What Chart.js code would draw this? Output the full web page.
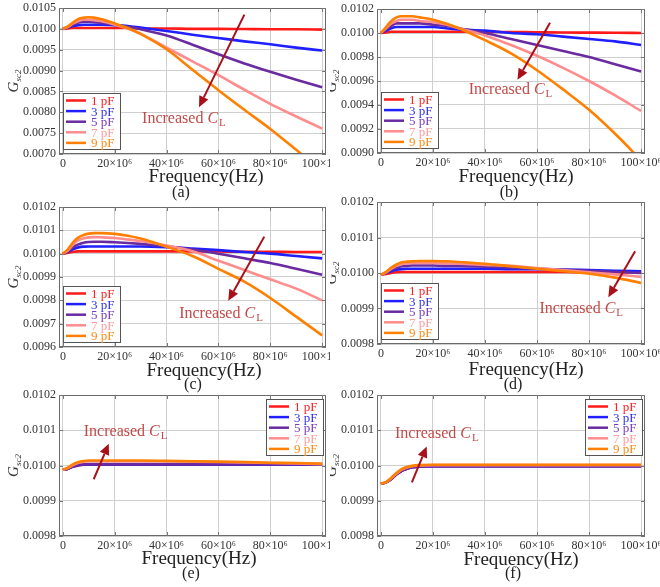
<!DOCTYPE html>
<html><head><meta charset="utf-8">
<script src="https://cdn.jsdelivr.net/npm/chart.js@4.4.1/dist/chart.umd.min.js"></script>
<style>
html,body{margin:0;padding:0;background:#fff;}
body{width:660px;height:587px;position:relative;overflow:hidden;font-family:"Liberation Serif","Times New Roman",serif;}
canvas{position:absolute;}
.t{position:absolute;font-family:"Liberation Serif","Times New Roman",serif;color:#222;white-space:nowrap;transform:translate(-50%,-50%);}
.ft{font-size:19px;}
.pl{font-size:16px;}
</style></head><body>
<canvas id="cA" width="330" height="172" style="left:0;top:0"></canvas>
<canvas id="cB" width="330" height="172" style="left:330px;top:0"></canvas>
<canvas id="cC" width="330" height="172" style="left:0;top:190px"></canvas>
<canvas id="cD" width="330" height="172" style="left:330px;top:190px"></canvas>
<canvas id="cE" width="330" height="172" style="left:0;top:380px"></canvas>
<canvas id="cF" width="330" height="172" style="left:330px;top:380px"></canvas>
<div class="t ft" style="left:206px;top:176px">Frequency(Hz)</div>
<div class="t pl" style="left:181px;top:192px">(a)</div>
<div class="t ft" style="left:516px;top:176px">Frequency(Hz)</div>
<div class="t pl" style="left:509px;top:192px">(b)</div>
<div class="t ft" style="left:204px;top:370px">Frequency(Hz)</div>
<div class="t pl" style="left:193px;top:384px">(c)</div>
<div class="t ft" style="left:526px;top:369px">Frequency(Hz)</div>
<div class="t pl" style="left:513px;top:384px">(d)</div>
<div class="t ft" style="left:199px;top:558px">Frequency(Hz)</div>
<div class="t pl" style="left:191px;top:573px">(e)</div>
<div class="t ft" style="left:521px;top:559px">Frequency(Hz)</div>
<div class="t pl" style="left:513px;top:573px">(f)</div>
<script>
// ---------- DATA ----------
const freqMHz = [0,2,4,6,8,10,12,15,20,25,30,40,50,60,70,80,90,100];
const seriesLabels = ['1 pF','3 pF','5 pF','7 pF','9 pF'];
const xTickValues = [0,20e6,40e6,60e6,80e6,100e6];

const yTicksA = [0.0070,0.0075,0.0080,0.0085,0.0090,0.0095,0.0100,0.0105];
const yTicksB = [0.0090,0.0092,0.0094,0.0096,0.0098,0.0100,0.0102];
const yTicksC = [0.0096,0.0097,0.0098,0.0099,0.0100,0.0101,0.0102];
const yTicksD = [0.0098,0.0099,0.0100,0.0101,0.0102];
const yTicksE = [0.0098,0.0099,0.0100,0.0101,0.0102];
const yTicksF = [0.0098,0.0099,0.0100,0.0101,0.0102];

// panel (a)
const a1pF = [0.01000,0.01001,0.01002,0.01002,0.01002,0.01002,0.01002,0.01002,0.01002,0.01002,0.01001,0.01001,0.01000,0.01000,0.009995,0.00999,0.00999,0.009982];
const a3pF = [0.01000,0.01003,0.01007,0.01009,0.01010,0.01010,0.01010,0.01010,0.01009,0.01007,0.01003,0.00995,0.00986,0.00978,0.00970,0.00963,0.00955,0.00948];
const a5pF = [0.01000,0.01004,0.01010,0.01015,0.01017,0.01017,0.01016,0.01014,0.01010,0.01005,0.00999,0.00984,0.00962,0.00939,0.00917,0.00897,0.00878,0.00860];
const a7pF = [0.01000,0.01005,0.01013,0.01019,0.01022,0.01022,0.01021,0.01018,0.01010,0.01001,0.00988,0.00955,0.00922,0.00889,0.00854,0.00820,0.00790,0.00761];
const a9pF = [0.01000,0.01006,0.01016,0.01024,0.01027,0.01028,0.01027,0.01023,0.01013,0.01002,0.00988,0.00951,0.00902,0.00853,0.00806,0.00760,0.00710,0.00660];
// panel (b)
const b1pF = [0.01000,0.010005,0.01001,0.01001,0.01001,0.01001,0.01001,0.01001,0.01001,0.01001,0.01001,0.01001,0.010008,0.010006,0.010004,0.010003,0.010002,0.010000];
const b3pF = [0.01000,0.01002,0.01004,0.01005,0.01005,0.01005,0.01005,0.01005,0.01005,0.01004,0.01003,0.01002,0.01000,0.00999,0.00997,0.00995,0.00993,0.00990];
const b5pF = [0.01000,0.01003,0.01006,0.01008,0.01008,0.01008,0.01008,0.01008,0.01007,0.01006,0.01004,0.01000,0.00995,0.00990,0.00985,0.00980,0.00974,0.00968];
const b7pF = [0.01000,0.01004,0.01008,0.01010,0.01011,0.01011,0.01011,0.01010,0.01009,0.01007,0.01004,0.00998,0.00990,0.00981,0.00971,0.00960,0.00948,0.00935];
const b9pF = [0.01000,0.01005,0.01010,0.01013,0.01014,0.01014,0.01014,0.01013,0.01011,0.01008,0.01004,0.00994,0.00983,0.00969,0.00953,0.00936,0.00916,0.00894];
// panel (c)
const c1pF = [0.01000,0.010004,0.010008,0.01001,0.01001,0.01001,0.01001,0.01001,0.01001,0.01001,0.01001,0.01001,0.01001,0.010009,0.010008,0.010008,0.010007,0.010007];
const c3pF = [0.01000,0.010008,0.01002,0.010027,0.01003,0.010031,0.010031,0.010031,0.010031,0.010031,0.010031,0.010028,0.010022,0.010015,0.010007,0.01000,0.00999,0.00998];
const c5pF = [0.01000,0.01001,0.010028,0.01004,0.010047,0.01005,0.010051,0.010051,0.010049,0.010046,0.010042,0.010032,0.010018,0.01000,0.00998,0.00996,0.009935,0.00991];
const c7pF = [0.01000,0.010015,0.01004,0.010058,0.010066,0.01007,0.010071,0.01007,0.010067,0.010061,0.010054,0.010035,0.01001,0.00997,0.00993,0.00989,0.00985,0.00980];
const c9pF = [0.01000,0.01002,0.01005,0.01007,0.01008,0.010086,0.010088,0.010088,0.010085,0.010077,0.010065,0.01003,0.00999,0.009935,0.00988,0.00981,0.00973,0.00965];
// panel (d)
const d1pF = [0.009995,0.009997,0.010000,0.010002,0.010003,0.010003,0.010003,0.010003,0.010003,0.010003,0.010003,0.010003,0.010003,0.010003,0.010003,0.010002,0.010002,0.010002];
const d3pF = [0.009995,0.010000,0.010005,0.010009,0.010011,0.010012,0.010012,0.010012,0.010012,0.010012,0.010012,0.010012,0.010011,0.010011,0.010010,0.010008,0.010006,0.010005];
const d5pF = [0.009995,0.010001,0.010009,0.010015,0.010019,0.010020,0.010021,0.010021,0.010021,0.010020,0.010020,0.010018,0.010015,0.010012,0.010009,0.010006,0.010003,0.010000];
const d7pF = [0.009995,0.010002,0.010012,0.010020,0.010025,0.010027,0.010028,0.010028,0.010028,0.010027,0.010026,0.010023,0.010020,0.010014,0.010008,0.010002,0.009996,0.009989];
const d9pF = [0.009995,0.010003,0.010015,0.010024,0.010030,0.010032,0.010033,0.010034,0.010034,0.010033,0.010031,0.010026,0.010019,0.010012,0.010005,0.009998,0.009987,0.009972];
// panel (e)
const e1pF = [0.009988,0.009991,0.009997,0.010000,0.010002,0.010002,0.010002,0.010002,0.010002,0.010002,0.010002,0.010002,0.010002,0.010002,0.010002,0.010002,0.010002,0.010002];
const e3pF = [0.009988,0.009991,0.009997,0.010001,0.010003,0.010003,0.010003,0.010003,0.010003,0.010003,0.010003,0.010003,0.010003,0.010003,0.010003,0.010003,0.010003,0.010003];
const e5pF = [0.009988,0.009991,0.009998,0.010002,0.010003,0.010004,0.010004,0.010004,0.010004,0.010004,0.010004,0.010004,0.010004,0.010004,0.010004,0.010004,0.010004,0.010004];
const e7pF = [0.009988,0.009993,0.010002,0.010008,0.010011,0.010012,0.010012,0.010012,0.010012,0.010012,0.010012,0.010012,0.010011,0.010010,0.010009,0.010007,0.010006,0.010004];
const e9pF = [0.009988,0.009994,0.010004,0.010010,0.010013,0.010014,0.010014,0.010014,0.010014,0.010014,0.010014,0.010013,0.010012,0.010011,0.010010,0.010008,0.010007,0.010005];
// panel (f)
const f1pF = [0.009948,0.009952,0.009962,0.009975,0.009985,0.009991,0.009995,0.009997,0.009998,0.009998,0.009998,0.009998,0.009998,0.009998,0.009998,0.009998,0.009998,0.009998];
const f3pF = [0.009948,0.009952,0.009962,0.009975,0.009985,0.009991,0.009995,0.009997,0.009998,0.009998,0.009998,0.009998,0.009998,0.009998,0.009998,0.009998,0.009998,0.009998];
const f5pF = [0.009948,0.009952,0.009962,0.009975,0.009985,0.009991,0.009995,0.009997,0.009998,0.009998,0.009998,0.009998,0.009998,0.009998,0.009998,0.009998,0.009998,0.009998];
const f7pF = [0.009948,0.009953,0.009964,0.009977,0.009988,0.009994,0.009998,0.010000,0.010001,0.010001,0.010001,0.010001,0.010001,0.010001,0.010001,0.010001,0.010001,0.010001];
const f9pF = [0.009948,0.009953,0.009965,0.009979,0.009990,0.009996,0.009999,0.010001,0.010002,0.010002,0.010002,0.010002,0.010002,0.010002,0.010002,0.010002,0.010002,0.010002];

// ---------- STYLE ----------
const lineColors = ['#ff1a1a','#2020ff','#6a2aa0','#ff8c8c','#ff8000'];
const textColors = ['#ff2020','#3030ee','#7a3cc0','#ff9c9c','#ff8a10'];
const FONT = '"Liberation Serif","Times New Roman",serif';

const panels = [
  {id:'cA', series:[a1pF,a3pF,a5pF,a7pF,a9pF], yt:yTicksA, area:{l:59,r:326,t:8,b:154}, legend:'bl',
   txt:[46.7e6,0.00787], arr:[[70e6,0.01034],[52.5e6,0.00812]]},
  {id:'cB', series:[b1pF,b3pF,b5pF,b7pF,b9pF], yt:yTicksB, area:{l:47,r:315,t:9,b:153}, legend:'bl',
   txt:[49.8e6,0.009536], arr:[[65e6,0.010086],[52.5e6,0.00961]]},
  {id:'cC', series:[c1pF,c3pF,c5pF,c7pF,c9pF], yt:yTicksC, area:{l:59,r:326,t:17,b:157}, legend:'bl',
   txt:[61e6,0.009747], arr:[[77.7e6,0.010073],[63.8e6,0.009798]]},
  {id:'cD', series:[d1pF,d3pF,d5pF,d7pF,d9pF], yt:yTicksD, area:{l:47,r:315,t:12,b:154}, legend:'bl',
   txt:[77e6,0.009901], arr:[[97.7e6,0.010061],[87.4e6,0.009932]]},
  {id:'cE', series:[e1pF,e3pF,e5pF,e7pF,e9pF], yt:yTicksE, area:{l:59,r:326,t:15,b:156}, legend:'tr',
   txt:[24.2e6,0.010099], arr:[[11.9e6,0.009961],[17.7e6,0.010062]]},
  {id:'cF', series:[f1pF,f3pF,f5pF,f7pF,f9pF], yt:yTicksF, area:{l:47,r:315,t:15,b:156}, legend:'tr',
   txt:[21.5e6,0.010093], arr:[[11.9e6,0.009952],[17.6e6,0.010054]]}
];

const decor = {
  id:'decor',
  afterDraw(chart){
    const o = chart.options.plugins.decor;
    const {ctx, chartArea:ca, scales:{x,y}} = chart;
    ctx.save();
    // frame
    ctx.strokeStyle='#6a6a6a'; ctx.lineWidth=1;
    ctx.strokeRect(Math.round(ca.left)+0.5, Math.round(ca.top)+0.5, Math.round(ca.width)-1, Math.round(ca.height)-1);
    // inward ticks
    ctx.strokeStyle='#777';
    ctx.beginPath();
    xTickValues.forEach(v=>{const px=Math.round(x.getPixelForValue(v))+0.5;
      ctx.moveTo(px,ca.bottom);ctx.lineTo(px,ca.bottom-4);ctx.moveTo(px,ca.top);ctx.lineTo(px,ca.top+4);});
    o.yt.forEach(v=>{const py=Math.round(y.getPixelForValue(v))+0.5;
      ctx.moveTo(ca.left,py);ctx.lineTo(ca.left+4,py);ctx.moveTo(ca.right,py);ctx.lineTo(ca.right-4,py);});
    ctx.stroke();
    // legend
    const bw=57, bh=56, rowH=10.6;
    let bx, by;
    if(o.legend==='bl'){ bx=ca.left+4; by=ca.bottom-5-bh; }
    else { bx=ca.right-3-bw; by=ca.top+4; }
    bx=Math.round(bx); by=Math.round(by);
    ctx.fillStyle='#fff'; ctx.fillRect(bx,by,bw,bh);
    ctx.strokeStyle='#555'; ctx.lineWidth=1; ctx.strokeRect(bx+0.5,by+0.5,bw,bh);
    ctx.font='13px '+FONT; ctx.textBaseline='alphabetic'; ctx.textAlign='left';
    seriesLabels.forEach((lab,i)=>{
      const ry = by+7.5+i*rowH;
      ctx.strokeStyle=lineColors[i]; ctx.lineWidth=2.5;
      ctx.beginPath(); ctx.moveTo(bx+3,ry); ctx.lineTo(bx+23,ry); ctx.stroke();
      ctx.fillStyle=textColors[i]; ctx.fillText(lab,bx+28,ry+4.5);
    });
    // annotation text
    const tx=x.getPixelForValue(o.txt[0]), ty=y.getPixelForValue(o.txt[1]);
    const f1='16px '+FONT, f2='italic 16px '+FONT, f3='11px '+FONT;
    ctx.font=f1; const w1=ctx.measureText('Increased ').width;
    ctx.font=f2; const w2=ctx.measureText('C').width;
    ctx.font=f3; const w3=ctx.measureText('L').width;
    let sx = tx-(w1+w2+w3+1)/2;
    ctx.fillStyle='#c24a48'; ctx.textBaseline='alphabetic';
    ctx.font=f1; ctx.fillText('Increased ',sx,ty+5);
    ctx.font=f2; ctx.fillText('C',sx+w1,ty+5);
    ctx.font=f3; ctx.fillText('L',sx+w1+w2+1,ty+8);
    // arrow
    const x0=x.getPixelForValue(o.arr[0][0]), y0=y.getPixelForValue(o.arr[0][1]);
    const x1=x.getPixelForValue(o.arr[1][0]), y1=y.getPixelForValue(o.arr[1][1]);
    const ang=Math.atan2(y1-y0,x1-x0), hl=11, hw=5;
    const bxp=x1-hl*Math.cos(ang), byp=y1-hl*Math.sin(ang);
    ctx.strokeStyle='#a8101a'; ctx.fillStyle='#a8101a'; ctx.lineWidth=2;
    ctx.beginPath(); ctx.moveTo(x0,y0); ctx.lineTo(bxp,byp); ctx.stroke();
    ctx.beginPath(); ctx.moveTo(x1,y1);
    ctx.lineTo(bxp+hw*Math.sin(ang), byp-hw*Math.cos(ang));
    ctx.lineTo(bxp-hw*Math.sin(ang), byp+hw*Math.cos(ang));
    ctx.closePath(); ctx.fill();
    // y title G_sc2
    ctx.translate(ca.left-46,(ca.top+ca.bottom)/2); ctx.rotate(-Math.PI/2);
    ctx.fillStyle='#333';
    ctx.font='italic 15px '+FONT; const gw=ctx.measureText('G').width;
    ctx.font='italic 9px '+FONT; const sw=ctx.measureText('sc2').width;
    const st=-(gw+sw)/2;
    ctx.font='italic 15px '+FONT; ctx.fillText('G',st,5);
    ctx.font='italic 9px '+FONT; ctx.fillText('sc2',st+gw,8);
    ctx.restore();
  }
};

panels.forEach(p=>{
  const cv=document.getElementById(p.id);
  const H=cv.height, W=cv.width;
  new Chart(cv,{
    type:'line',
    data:{datasets:p.series.map((s,i)=>({
      label:seriesLabels[i],
      data:freqMHz.map((f,k)=>({x:f*1e6,y:s[k]})),
      borderColor:lineColors[i], borderWidth:2.6, pointRadius:0,
      cubicInterpolationMode:'monotone', order:4-i, fill:false
    }))},
    options:{
      responsive:false, animation:false, devicePixelRatio:1,
      layout:{padding:{top:p.area.t,right:W-p.area.r,left:0,bottom:0}},
      plugins:{legend:{display:false},tooltip:{enabled:false},
        decor:{yt:p.yt,legend:p.legend,txt:p.txt,arr:p.arr}},
      scales:{
        x:{type:'linear',min:-1.5e6,max:101.5e6,
          afterBuildTicks:s=>{s.ticks=xTickValues.map(v=>({value:v}));},
          afterFit:s=>{s.height=H-p.area.b;s.paddingLeft=0;s.paddingRight=0;},
          ticks:{autoSkip:false,maxRotation:0,padding:3,color:'#333',font:{family:FONT,size:12},
            callback:v=>v===0?'0':(v/1e6)+'×10⁶'},
          grid:{color:'#cfcfcf',lineWidth:1,drawTicks:false},
          border:{display:false}},
        y:{type:'linear',min:p.yt[0],max:p.yt[p.yt.length-1],
          afterBuildTicks:s=>{s.ticks=p.yt.map(v=>({value:v}));},
          afterFit:s=>{s.width=p.area.l;s.paddingTop=0;s.paddingBottom=0;},
          ticks:{autoSkip:false,padding:3,color:'#333',font:{family:FONT,size:12},
            callback:v=>v.toFixed(4)},
          grid:{color:'#cfcfcf',lineWidth:1,drawTicks:false},
          border:{display:false}}
      }
    },
    plugins:[decor]
  });
});
</script>
</body></html>
